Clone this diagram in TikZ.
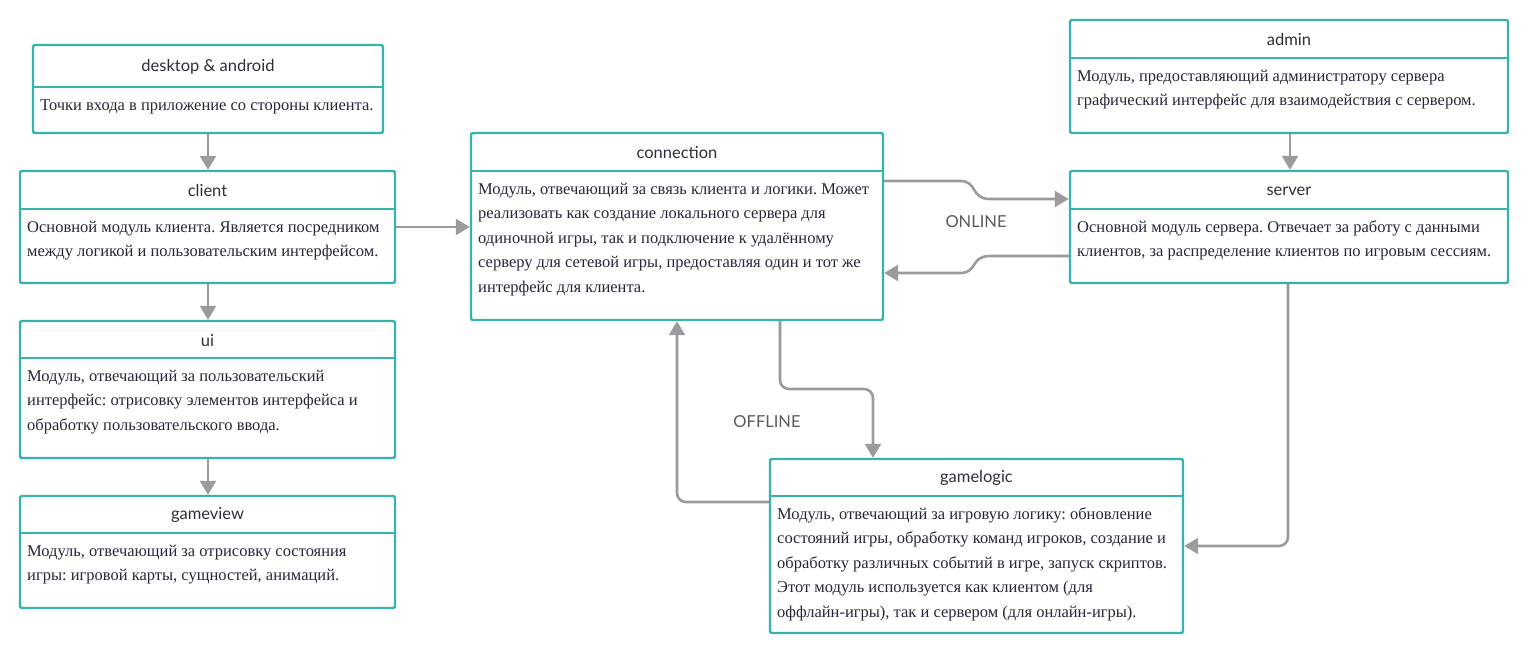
\documentclass[tikz,border=0pt]{standalone}
\usepackage{fontspec}
\setmainfont{Liberation Serif}
\newfontfamily\latofont{Lato}
\usetikzlibrary{arrows.meta,fit,calc}
\definecolor{tealb}{HTML}{34B3AF}
\definecolor{arrowg}{HTML}{9B9B9B}
\definecolor{hdrtxt}{HTML}{2E2E3A}
\definecolor{bodytxt}{HTML}{27273A}
\definecolor{lbltxt}{HTML}{5A5A5A}
\tikzset{
  boxshape/.style={draw=tealb, line width=2.4pt, rounded corners=2pt, inner sep=0pt, fill=white},
  divider/.style={draw=tealb, line width=2pt},
  hdr/.style={font=\latofont\fontsize{16.5}{19}\selectfont, text=hdrtxt, inner sep=0pt, yshift=-1.5pt},
  bodytext/.style={font=\fontsize{16.5}{24.5}\selectfont\frenchspacing, text=bodytxt, align=left, inner sep=0pt, anchor=north west},
  conn/.style={draw=arrowg, line width=2.6pt, -{Triangle[length=14pt,width=16pt]}, rounded corners=9pt},
  modelabel/.style={font=\latofont\fontsize{16.5}{19}\selectfont, text=lbltxt, inner sep=0pt}
}
\newcommand\mkbox[8]{%
  \node[boxshape, fit={(#2,#3) (#4,#5)}] (#1) {};
  \draw[divider] (#1.west |- 0,#6) -- (#1.east |- 0,#6);
  \node[hdr] (#1-t) at ($(#1.north)!0.5!(#1.north |- 0,#6)$) {#7};
  \node[bodytext] (#1-b) at (#2+7,#6+6) {\strut#8};
}
\begin{document}
\begin{tikzpicture}[x=1pt,y=-1pt]
\useasboundingbox[fill=white] (0,0) rectangle (1528,652);
\mkbox{desk}{33}{45}{383}{133}{87}{desktop \& android}{Точки входа в приложение со стороны клиента.}
\mkbox{client}{20}{171}{395}{283}{209}{client}{Основной модуль клиента. Является посредником\\между логикой и пользовательским интерфейсом.}
\mkbox{ui}{20}{321}{395}{458}{358}{ui}{Модуль, отвечающий за пользовательский\\интерфейс: отрисовку элементов интерфейса и\\обработку пользовательского ввода.}
\mkbox{gview}{20}{496}{395}{608}{533}{gameview}{Модуль, отвечающий за отрисовку состояния\\игры: игровой карты, сущностей, анимаций.}
\mkbox{connx}{471}{133}{883}{320}{171}{connection}{Модуль, отвечающий за связь клиента и логики. Может\\реализовать как создание локального сервера для\\одиночной игры, так и подключение к удалённому\\серверу для сетевой игры, предоставляя один и тот же\\интерфейс для клиента.}
\mkbox{admin}{1070}{20}{1508}{133}{58}{admin}{Модуль, предоставляющий администратору сервера\\графический интерфейс для взаимодействия с сервером.}
\mkbox{server}{1070}{171}{1508}{283}{209}{server}{Основной модуль сервера. Отвечает за работу с данными\\клиентов, за распределение клиентов по игровым сессиям.}
\mkbox{glogic}{770}{459}{1183}{633}{496}{gamelogic}{Модуль, отвечающий за игровую логику: обновление\\состояний игры, обработку команд игроков, создание и\\обработку различных событий в игре, запуск скриптов.\\Этот модуль используется как клиентом (для\\оффлайн-игры), так и сервером (для онлайн-игры).}

% vertical chain
\draw[conn] (desk.south -| 208,0) -- (client.north -| 208,0);
\draw[conn] (client.south -| 208,0) -- (ui.north -| 208,0);
\draw[conn] (ui.south -| 208,0) -- (gview.north -| 208,0);
\draw[conn] (client.east |- 0,227) -- (connx.west |- 0,227);
\draw[conn] (admin.south -| 1290,0) -- (server.north -| 1290,0);

% online
\draw[conn, rounded corners=0pt] (connx.east |- 0,181) -- (960,181) .. controls (978,181) and (970,199) .. (990,199) -- (server.west |- 0,199);
\draw[conn, rounded corners=0pt] (server.west |- 0,256) -- (990,256) .. controls (970,256) and (978,273) .. (960,273) -- (connx.east |- 0,273);
\node[modelabel] (online) at (976,222) {ONLINE};

% offline
\draw[conn] (connx.south -| 780,0) -- (780,389) -- (873,389) -- (glogic.north -| 873,0);
\draw[conn] (glogic.west |- 0,502) -- (677,502) -- (connx.south -| 677,0);
\node[modelabel] (offline) at (767,422) {OFFLINE};

% server to gamelogic
\draw[conn] (server.south -| 1288,0) -- (1288,546) -- (glogic.east |- 0,546);
\end{tikzpicture}
\end{document}
